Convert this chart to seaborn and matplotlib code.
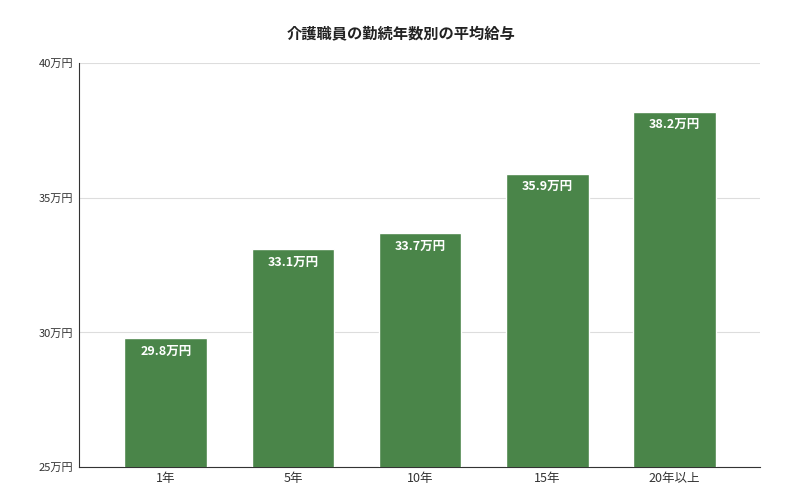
import matplotlib.pyplot as plt
import pandas as pd
import seaborn as sns

years = ["1年", "5年", "10年", "15年", "20年以上"]
salary = [29.8, 33.1, 33.7, 35.9, 38.2]
yticks = [25, 30, 35, 40]

sns.set_theme(style="white")
plt.rcParams["font.family"] = ["Noto Sans CJK JP", "DejaVu Sans"]

df = pd.DataFrame({"year": years, "salary": salary})

fig = plt.figure(figsize=(8.03, 4.97), dpi=100)
ax = fig.add_axes([0.098, 0.060, 0.848, 0.813])
sns.barplot(data=df, x="year", y="salary", color="#4a8549", saturation=1,
            width=0.65, ax=ax, zorder=3)

ax.set_ylim(25, 40)
ax.set_xlim(-0.685, 4.67)
ax.set_yticks(yticks)
ax.set_yticklabels([f"{v}万円" for v in yticks], fontsize=8, color="#333333")
ax.tick_params(axis="x", labelsize=9, colors="#333333", length=0)
ax.tick_params(axis="y", length=0, pad=4)
ax.yaxis.grid(True, color="#dddddd", linewidth=0.8, zorder=0)
ax.set_xlabel("")
ax.set_ylabel("")
for side in ["top", "right"]:
    ax.spines[side].set_visible(False)
for side in ["left", "bottom"]:
    ax.spines[side].set_color("#333333")
    ax.spines[side].set_linewidth(0.8)

for i, v in enumerate(salary):
    ax.text(i, v - 0.25, f"{v:.1f}万円", ha="center", va="top",
            color="white", fontsize=9, fontweight="bold", zorder=4)

fig.suptitle("介護職員の勤続年数別の平均給与", x=0.5, y=0.95,
             fontsize=11, fontweight="bold", color="#222222")

fig.savefig("out.png", dpi=100)
